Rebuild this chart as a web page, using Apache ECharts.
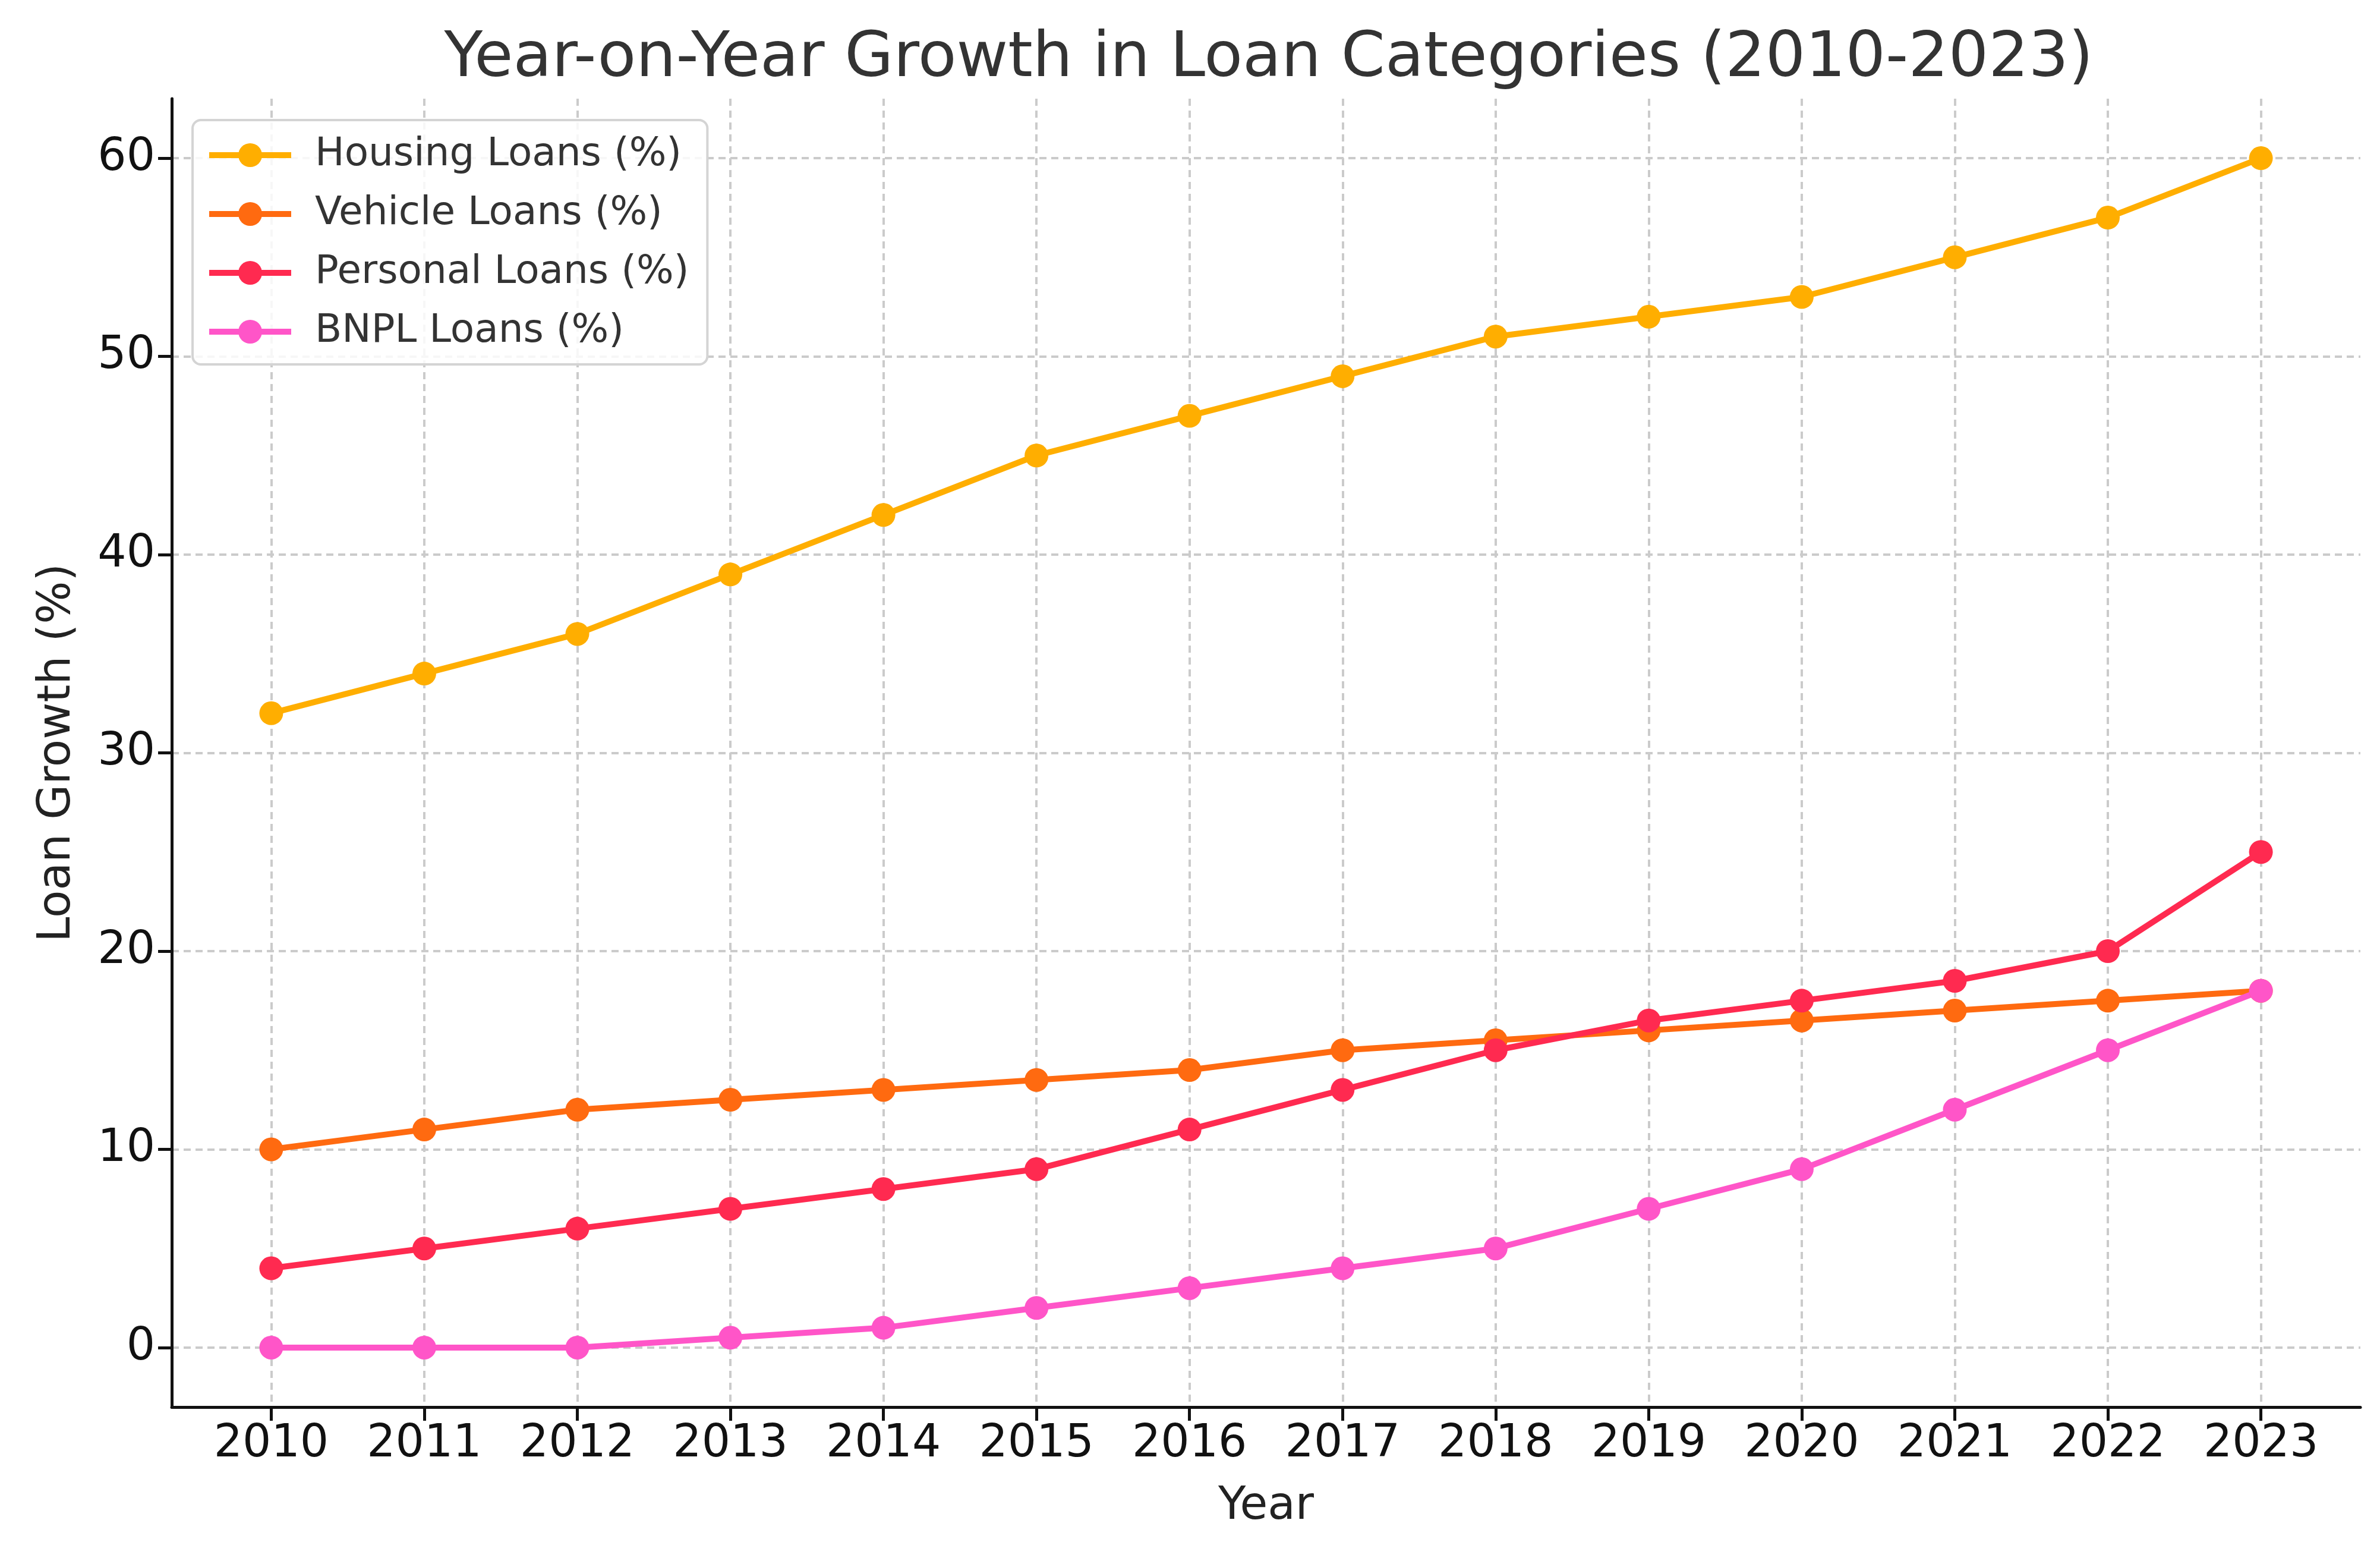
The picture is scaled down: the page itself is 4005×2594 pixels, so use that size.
<!DOCTYPE html>
<html>
<head>
<meta charset="utf-8">
<script src="https://cdn.jsdelivr.net/npm/echarts@6/dist/echarts.min.js"></script>
<style>
html,body{margin:0;padding:0;background:#fff;}
#chart{width:4005px;height:2594px;}
</style>
</head>
<body>
<div id="chart"></div>
<script>
const years = [2010,2011,2012,2013,2014,2015,2016,2017,2018,2019,2020,2021,2022,2023];
const housing  = [32,34,36,39,42,45,47,49,51,52,53,55,57,60];
const vehicle  = [10,11,12,12.5,13,13.5,14,15,15.5,16,16.5,17,17.5,18];
const personal = [4,5,6,7,8,9,11,13,15,16.5,17.5,18.5,20,25];
const bnpl     = [0,0,0,0.5,1,2,3,4,5,7,9,12,15,18];
const yTicks   = [0,10,20,30,40,50,60];

const seriesDefs = [
  {name:'Housing Loans (%)',  data:housing,  color:'#FFAE00'},
  {name:'Vehicle Loans (%)',  data:vehicle,  color:'#FF6A10'},
  {name:'Personal Loans (%)', data:personal, color:'#FF2A50'},
  {name:'BNPL Loans (%)',     data:bnpl,     color:'#FF55C8'}
];

const FONT = 'DejaVu Sans';
const gridLine = {show:true, lineStyle:{color:'#cbcbcb', width:4, type:[12,8]}};

const chart = echarts.init(document.getElementById('chart'), null, {renderer:'canvas'});
chart.setOption({
  backgroundColor:'#ffffff',
  animation:false,
  title:{
    text:'Year-on-Year Growth in Loan Categories (2010-2023)',
    left:2130, top:42, textAlign:'center',
    textStyle:{fontFamily:FONT, fontSize:106, fontWeight:'normal', color:'#333333'}
  },
  legend:{
    orient:'vertical', left:324, top:202,
    padding:[26,31,22,23],
    itemWidth:138, itemHeight:50, itemGap:33,
    backgroundColor:'rgba(255,255,255,0.85)',
    borderColor:'#d4d4d4', borderWidth:4, borderRadius:14,
    lineStyle:{width:10},
    textStyle:{fontFamily:FONT, fontSize:66, color:'#333333', padding:[0,0,0,35]},
    data:seriesDefs.map(s=>s.name)
  },
  grid:{left:289, right:33, top:166, bottom:227, containLabel:false},
  xAxis:{
    type:'value', min:2009.35, max:2023.65,
    name:'Year', nameLocation:'middle', nameGap:130,
    nameTextStyle:{fontFamily:FONT, fontSize:76, color:'#222222'},
    axisLine:{show:true, onZero:false, lineStyle:{color:'#111111', width:5}},
    axisTick:{show:true, length:23, lineStyle:{color:'#111111', width:5}, customValues:years},
    axisLabel:{fontFamily:FONT, fontSize:76, color:'#111111', margin:25, customValues:years, formatter:v=>String(v)},
    splitLine:gridLine
  },
  yAxis:{
    type:'value', min:-3, max:63,
    name:'Loan Growth (%)', nameLocation:'middle', nameGap:154,
    nameTextStyle:{fontFamily:FONT, fontSize:76, color:'#222222'},
    axisLine:{show:true, onZero:false, lineStyle:{color:'#111111', width:5}},
    axisTick:{show:true, length:23, lineStyle:{color:'#111111', width:5}, customValues:yTicks},
    axisLabel:{fontFamily:FONT, fontSize:76, color:'#111111', margin:28, customValues:yTicks},
    splitLine:gridLine
  },
  series:seriesDefs.map(s=>({
    name:s.name, type:'line',
    data:years.map((y,i)=>[y, s.data[i]]),
    symbol:'circle', symbolSize:40, showSymbol:true,
    lineStyle:{color:s.color, width:10},
    itemStyle:{color:s.color},
    emphasis:{disabled:true}
  }))
});
</script>
</body>
</html>
